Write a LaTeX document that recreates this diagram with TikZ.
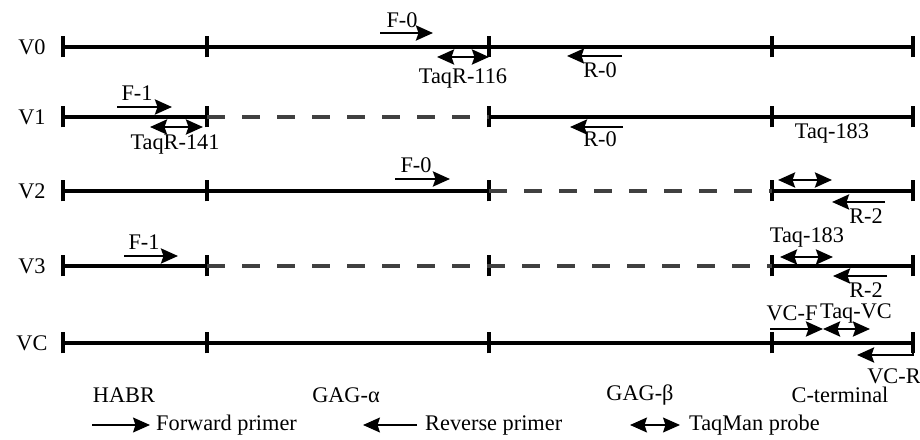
\documentclass[tikz,border=0pt]{standalone}
\usepackage{fontspec}
\setmainfont{Liberation Serif}
\usetikzlibrary{arrows.meta}
\begin{document}
\begin{tikzpicture}[
  font=\fontsize{12.7}{15}\selectfont,
  gene/.style={line width=2.3pt},
  gap/.style={line width=1.8pt, black!75, dash pattern=on 0.36cm off 0.34cm},
  bar/.style={line width=2pt},
  primer/.style={line width=1.5pt, -{Stealth[length=3.4mm,width=3mm,inset=0.5mm]}},
  probe/.style={line width=1.5pt, {Stealth[length=3.4mm,width=3mm,inset=0.5mm]}-{Stealth[length=3.4mm,width=3mm,inset=0.5mm]}},
  keyarrow/.style={line width=0.8pt}
]
\useasboundingbox (0,0) rectangle (18.4,8.78);

% ticks at the domain borders
\foreach \y in {7.84,6.44,4.96,3.46,1.92}
  \foreach \x in {1.26,4.14,9.78,15.44,18.26}
    \draw[bar] (\x,\y-0.21) -- (\x,\y+0.21);

% V0
\node (v0) at (0.64,7.84) {V0};
\draw[gene] (1.26,7.84) -- (18.26,7.84);
\draw[primer] (7.6,8.12) -- (8.66,8.12);
\node (f0a) at (8.04,8.38) {F-0};
\draw[probe] (8.74,7.64) -- (9.78,7.64);
\node (taqr116) at (9.26,7.22) {TaqR-116};
\draw[primer] (12.44,7.66) -- (11.34,7.66);
\node (r0a) at (12.0,7.38) {R-0};

% V1
\node (v1) at (0.64,6.44) {V1};
\draw[gene] (1.26,6.44) -- (4.14,6.44);
\draw[gap] (4.14,6.44) -- (9.78,6.44);
\draw[gene] (9.78,6.44) -- (18.26,6.44);
\draw[primer] (2.34,6.64) -- (3.44,6.64);
\node (f1a) at (2.74,6.92) {F-1};
\draw[probe] (3.0,6.24) -- (4.06,6.24);
\node (taqr141) at (3.5,5.88) {TaqR-141};
\draw[primer] (12.46,6.24) -- (11.4,6.24);
\node (r0b) at (12.0,6.0) {R-0};
\node (taq183a) at (16.64,6.12) {Taq-183};

% V2
\node (v2) at (0.64,4.96) {V2};
\draw[gene] (1.26,4.96) -- (9.78,4.96);
\draw[gap] (9.78,4.96) -- (15.44,4.96);
\draw[gene] (15.44,4.96) -- (18.26,4.96);
\draw[primer] (7.9,5.2) -- (9.0,5.2);
\node (f0b) at (8.32,5.48) {F-0};
\draw[probe] (15.56,5.18) -- (16.64,5.18);
\draw[primer] (17.7,4.74) -- (16.64,4.74);
\node (r2a) at (17.32,4.46) {R-2};

% V3
\node (v3) at (0.64,3.46) {V3};
\draw[gene] (1.26,3.46) -- (4.14,3.46);
\draw[gap] (4.14,3.46) -- (15.44,3.46);
\draw[gene] (15.44,3.46) -- (18.26,3.46);
\draw[primer] (2.48,3.66) -- (3.56,3.66);
\node (f1b) at (2.88,3.94) {F-1};
\node (taq183b) at (16.14,4.04) {Taq-183};
\draw[probe] (15.6,3.64) -- (16.66,3.64);
\draw[primer] (17.74,3.26) -- (16.66,3.26);
\node (r2b) at (17.32,2.98) {R-2};

% VC
\node (vc) at (0.64,1.92) {VC};
\draw[gene] (1.26,1.92) -- (18.26,1.92);
\draw[primer] (15.4,2.2) -- (16.46,2.2);
\draw[probe] (16.46,2.2) -- (17.4,2.2);
\node (vcf) at (15.84,2.52) {VC-F};
\node (taqvc) at (17.12,2.52) {Taq-VC};
\draw[primer] (18.26,1.92) -- (18.26,1.68) -- (17.14,1.68);
\node (vcr) at (17.88,1.26) {VC-R};

% domain names
\node (habr) at (2.48,0.88) {HABR};
\node (gaga) at (6.92,0.88) {GAG-α};
\node (gagb) at (12.8,0.88) {GAG-β};
\node (cterm) at (16.8,0.88) {C-terminal};

% key
\draw[primer,keyarrow] (1.84,0.28) -- (3.0,0.28);
\node[anchor=west] (fwd) at (3.0,0.28) {Forward primer};
\draw[primer,keyarrow] (8.34,0.28) -- (7.26,0.28);
\node[anchor=west] (rev) at (8.38,0.28) {Reverse primer};
\draw[probe,keyarrow] (12.6,0.28) -- (13.6,0.28);
\node[anchor=west] (taqman) at (13.66,0.28) {TaqMan probe};
\end{tikzpicture}
\end{document}
